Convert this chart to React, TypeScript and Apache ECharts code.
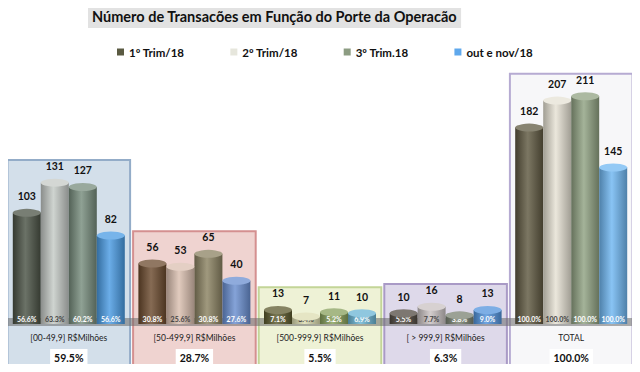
import React, { useEffect, useRef } from "react";
import * as echarts from "echarts";

const categories = [
  "[00-49,9] R$Milhões",
  "[50-499,9] R$Milhões",
  "[500-999,9] R$Milhões",
  "[ > 999,9] R$Milhões",
  "TOTAL",
];
const categoryShare = [59.5, 28.7, 5.5, 6.3, 100.0];
const seriesNames = ["1º Trim/18", "2º Trim/18", "3º Trim.18", "out e nov/18"];
const trim1 = [103, 56, 13, 10, 182];
const trim2 = [131, 53, 7, 16, 207];
const trim3 = [127, 65, 11, 8, 211];
const outNov = [82, 40, 10, 13, 145];
const trim1Pct = [56.6, 30.8, 7.1, 5.5, 100.0];
const trim2Pct = [63.3, 25.6, 3.4, 7.7, 100.0];
const trim3Pct = [60.2, 30.8, 5.2, 3.8, 100.0];
const outNovPct = [56.6, 27.6, 6.9, 9.0, 100.0];

const values = [trim1, trim2, trim3, outNov];
const pcts = [trim1Pct, trim2Pct, trim3Pct, outNovPct];

// styles
const legendColors = ["#5a5a42", "#e6e6dc", "#8c9c82", "#5fa8ec"];
const barPalette = [
  ["#4b5346", "#c5cac6", "#778c7c", "#4a9be3"],
  ["#6b4a2e", "#dbbfb0", "#8b8262", "#6a8fd0"],
  ["#5c5a2e", "#dcdcb0", "#88a05c", "#6ab4d4"],
  ["#524a42", "#c9c2c2", "#7a8272", "#5293dc"],
  ["#5f5941", "#e6e2d4", "#90a282", "#6fb7f2"],
];
const boxFill = ["#d3dfea", "#efd3d0", "#eef2d6", "#ded9ea", "#f7f7f9"];
const boxStroke = ["#93acc8", "#d49090", "#c3d598", "#a99ac6", "#b6abd2"];
const pctLabelColors = ["#ffffff", "#444444", "#ffffff", "#ffffff"];
const FONT = "Lato";

function shade(hex: string, f: number): string {
  const n = parseInt(hex.slice(1), 16);
  let r = (n >> 16) & 255, g = (n >> 8) & 255, b = n & 255;
  if (f >= 0) {
    r = Math.round(r + (255 - r) * f);
    g = Math.round(g + (255 - g) * f);
    b = Math.round(b + (255 - b) * f);
  } else {
    r = Math.round(r * (1 + f));
    g = Math.round(g * (1 + f));
    b = Math.round(b * (1 + f));
  }
  return "rgb(" + r + "," + g + "," + b + ")";
}

function cyl(c: string) {
  return new echarts.graphic.LinearGradient(0, 0, 1, 0, [
    { offset: 0, color: shade(c, -0.3) },
    { offset: 0.45, color: shade(c, 0.18) },
    { offset: 1, color: shade(c, -0.3) },
  ]);
}

export default function App() {
  const ref = useRef<HTMLDivElement>(null);
  useEffect(() => {
    if (!ref.current) return;
    const chart = echarts.init(ref.current, undefined, { renderer: "svg" });

    const boxTops = categories.map(
      (_, i) => Math.max(trim1[i], trim2[i], trim3[i], outNov[i]) + 21
    );

    const barSeries: any[] = values.map((vals, s) => ({
      type: "bar",
      name: seriesNames[s],
      z: 3,
      barWidth: 28,
      barGap: "0%",
      itemStyle: { color: legendColors[s] },
      data: vals.map((v, i) => ({
        value: v,
        itemStyle: { color: cyl(barPalette[i][s]) },
      })),
      label: {
        show: true,
        position: "insideBottom",
        distance: 2,
        fontFamily: FONT,
        fontSize: 7,
        fontWeight: "bold",
        color: pctLabelColors[s],
        formatter: (p: any) => pcts[s][p.dataIndex].toFixed(1) + "%",
      },
    }));

    const topSeries: any[] = values.map((vals, s) => ({
      type: "pictorialBar",
      name: "top" + s,
      z: 4,
      barWidth: 28,
      barGap: "0%",
      symbol: "circle",
      symbolSize: [28, 8],
      symbolPosition: "end",
      symbolOffset: [0, "-50%"],
      data: vals.map((v, i) => ({
        value: v,
        itemStyle: { color: shade(barPalette[i][s], 0.25) },
      })),
      label: {
        show: true,
        position: "top",
        distance: 7,
        fontFamily: FONT,
        fontSize: 10.5,
        fontWeight: "bold",
        color: "#111",
      },
    }));

    const option: any = {
      animation: false,
      backgroundColor: "#ffffff",
      title: {
        text: "Número de Transacões em Função do Porte da Operacão",
        left: 88,
        top: 5,
        backgroundColor: "#e2e2e2",
        padding: [4, 4, 4, 4],
        textStyle: {
          fontFamily: FONT,
          fontSize: 14.5,
          fontWeight: "bold",
          color: "#111",
        },
      },
      legend: {
        top: 41,
        left: 112,
        itemWidth: 7,
        itemHeight: 7,
        itemGap: 46,
        icon: "rect",
        data: seriesNames,
        textStyle: {
          fontFamily: FONT,
          fontSize: 11.5,
          fontWeight: "bold",
          color: "#111",
        },
      },
      grid: { left: 6, right: 6, top: 65, bottom: 48 },
      xAxis: {
        type: "category",
        data: categories,
        z: 10,
        axisLine: { show: false },
        axisTick: { show: false },
        axisLabel: {
          margin: 8,
          interval: 0,
          formatter: (v: string, i: number) =>
            "{a|" + v + "}\n{g|}\n{b|" + categoryShare[i].toFixed(1) + "%}",
          rich: {
            a: { fontFamily: FONT, fontSize: 8.5, color: "#222", lineHeight: 12 },
            g: { height: 5, lineHeight: 5 },
            b: {
              fontFamily: FONT,
              fontSize: 10.5,
              fontWeight: "bold",
              color: "#111",
              backgroundColor: "#ffffff",
              padding: [3, 4, 2, 4],
            },
          },
        },
      },
      yAxis: {
        type: "value",
        min: 0,
        max: 240,
        show: false,
        splitLine: { show: false },
      },
      series: [...barSeries, ...topSeries],
    };
    chart.setOption(option);

    // background boxes and floor band, positioned through the chart's own scales
    const elements: any[] = [];
    const c0 = chart.convertToPixel({ xAxisIndex: 0, yAxisIndex: 0 }, [0, 0]) as number[];
    const c1 = chart.convertToPixel({ xAxisIndex: 0, yAxisIndex: 0 }, [1, 0]) as number[];
    const bw = c1[0] - c0[0];
    const bottom = 369;
    boxTops.forEach((t, i) => {
      const p = chart.convertToPixel({ xAxisIndex: 0, yAxisIndex: 0 }, [i, t]) as number[];
      const x0 = p[0] - bw / 2;
      elements.push({
        type: "rect",
        z: 0,
        silent: true,
        shape: { x: x0 + 1.5, y: p[1], width: bw - 3, height: bottom - p[1] },
        style: { fill: boxFill[i], stroke: boxStroke[i], lineWidth: 2 },
      });
    });
    const firstX = c0[0] - bw / 2;
    elements.push({
      type: "rect",
      z: 1,
      silent: true,
      shape: { x: firstX, y: c0[1] - 6, width: bw * categories.length, height: 8 },
      style: { fill: "rgba(105,105,105,0.55)" },
    });
    chart.setOption({ graphic: { elements } });

    return () => chart.dispose();
  }, []);
  return <div ref={ref} style={{ width: 640, height: 372, margin: -8 }} />;
}
